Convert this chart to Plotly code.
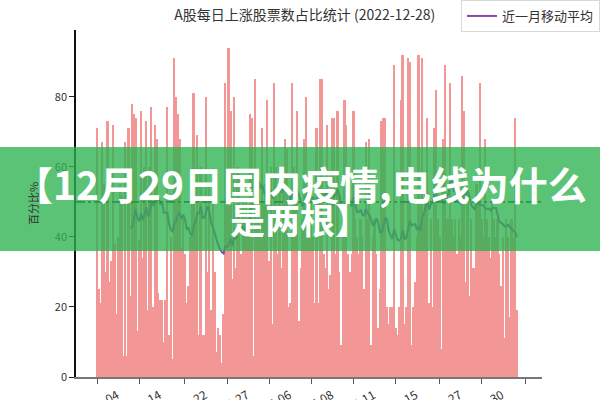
import plotly.graph_objects as go
import pandas as pd

# daily share of advancing stocks (%), 2022 trading days up to 2022-12-28
values = [
    71, 25, 21, 67, 55, 30, 73, 27, 33, 72,
    38, 18, 40, 55, 52, 6, 67, 6, 71, 23,
    78, 75, 74, 13, 39, 76, 34, 60, 73, 19,
    60, 77, 20, 72, 68, 24, 22, 22, 10, 22,
    77, 12, 40, 5, 91, 80, 75, 68, 37, 45,
    35, 21, 26, 40, 55, 81, 45, 69, 12, 60,
    12, 12, 80, 30, 55, 19, 50, 30, 7, 14,
    12, 4, 18, 84, 50, 94, 76, 28, 80, 31,
    60, 58, 35, 50, 45, 50, 40, 75, 74, 6,
    85, 45, 55, 40, 71, 50, 55, 79, 33, 60,
    15, 84, 60, 35, 60, 31, 60, 68, 65, 20,
    21, 84, 60, 50, 76, 16, 31, 45, 68, 80,
    50, 45, 55, 40, 21, 71, 21, 85, 85, 35,
    31, 72, 25, 29, 74, 74, 35, 76, 30, 9,
    40, 79, 72, 35, 30, 35, 76, 45, 40, 35,
    45, 40, 25, 67, 45, 68, 9, 40, 45, 35,
    14, 25, 73, 74, 74, 20, 15, 20, 20, 89,
    14, 12, 20, 79, 92, 15, 20, 91, 90, 9,
    20, 27, 40, 92, 50, 91, 45, 55, 74, 21,
    45, 20, 71, 82, 45, 40, 8, 68, 89, 45,
    45, 84, 45, 40, 45, 35, 45, 40, 86, 76,
    27, 50, 23, 45, 31, 31, 55, 50, 84, 45,
    40, 68, 45, 40, 34, 50, 45, 40, 45, 35,
    26, 40, 11, 45, 40, 17, 45, 40, 74, 19,
]
day_index = list(range(len(values)))
tick_index = [0, 24, 50, 74, 98, 122, 146, 170, 195, 219, 244]
tick_labels = ["01-04", "02-14", "03-22", "04-27", "06-06", "07-08",
               "08-11", "09-15", "10-27", "11-30", ""]
ma_window = 20
moving_avg = pd.Series(values).rolling(ma_window).mean()
ref_level = 50

title_text = "A股每日上涨股票数占比统计 (2022-12-28)"
legend_name = "近一月移动平均"
y_title = "百分比%"
banner_line1 = "【12月29日国内疫情,电线为什么"
banner_line2 = "是两根】"

FONT = "Noto Sans CJK SC"

fig = go.Figure()
fig.add_trace(go.Bar(
    x=day_index, y=values, marker=dict(color="#F08080", line=dict(width=0)),
    opacity=0.82, showlegend=False, hoverinfo="skip",
))
fig.add_trace(go.Scatter(
    x=day_index, y=moving_avg, mode="lines", name=legend_name,
    line=dict(color="#8E44AD", width=2),
))

fig.add_shape(type="line", xref="paper", yref="y", x0=0, x1=1,
              y0=ref_level, y1=ref_level,
              line=dict(color="#1f3a1f", width=1.6, dash="dashdot"))

# green overlay banner
fig.add_shape(type="rect", xref="paper", yref="paper",
              x0=-0.2, x1=1.2, y0=0.363, y1=0.663,
              fillcolor="rgba(45,178,80,0.78)", line=dict(width=0), layer="above")
fig.add_annotation(text=banner_line1, xref="paper", yref="paper",
                   x=0.4807, y=0.559, showarrow=False,
                   font=dict(family=FONT, size=39, color="white", weight="bold"))
fig.add_annotation(text=banner_line2, xref="paper", yref="paper",
                   x=0.4807, y=0.456, showarrow=False,
                   font=dict(family=FONT, size=35, color="white", weight="bold"))

fig.update_layout(
    width=600, height=400,
    margin=dict(l=76, r=58, t=30, b=23, autoexpand=False),
    paper_bgcolor="white", plot_bgcolor="white",
    bargap=0,
    font=dict(family=FONT, size=11, color="#333"),
    title=dict(text=title_text, x=0.508, xref="container", y=0.962,
               yref="container", xanchor="center", yanchor="middle",
               font=dict(family=FONT, size=14, color="#333")),
    legend=dict(xref="container", yref="container", x=1.0, y=1.0,
                xanchor="right", yanchor="top", bgcolor="white",
                bordercolor="#d8d8d8", borderwidth=1,
                font=dict(family=FONT, size=13, color="#333")),
    showlegend=True,
)
fig.update_xaxes(range=[-12, 253.2], tickmode="array", tickvals=tick_index,
                 ticktext=tick_labels, tickangle=-30, ticks="outside",
                 ticklen=5, tickcolor="#555", showline=True, linecolor="#777",
                 linewidth=1.5, showgrid=False, zeroline=False, automargin=False,
                 ticklabelshift=20, ticklabelstandoff=0,
                 tickfont=dict(size=12, color="#333"))
fig.update_yaxes(range=[0, 99.1], tickvals=[0, 20, 40, 60, 80], ticks="outside",
                 ticklen=5, tickcolor="#222", showline=True, linecolor="#111",
                 linewidth=1.5, showgrid=False, zeroline=False, automargin=False,
                 title=dict(text=y_title, standoff=14, font=dict(size=11, color="#333")),
                 tickfont=dict(size=11, color="#333"))

fig.write_html("out.html", config={"displayModeBar": False},
               post_script="document.body.style.margin='0px';document.body.style.padding='0px';")
